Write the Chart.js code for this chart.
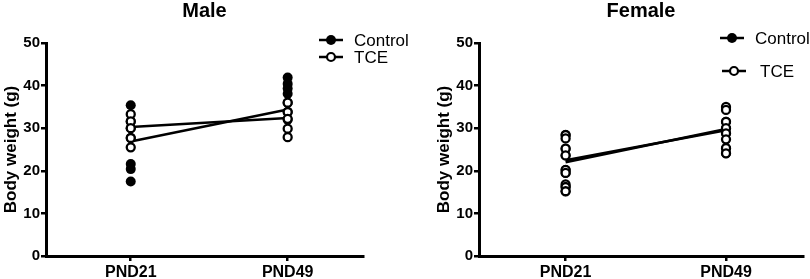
<!DOCTYPE html>
<html>
<head>
<meta charset="utf-8">
<script src="https://cdn.jsdelivr.net/npm/chart.js@4/dist/chart.umd.min.js"></script>
<style>
  html, body { margin: 0; padding: 0; background: #fff; }
  .wrap { position: relative; width: 810px; height: 279px; overflow: hidden; }
  canvas { display: block; position: absolute; top: 0; }
  #male { left: 0; }
  #female { left: 405px; }
</style>
</head>
<body>
<div class="wrap">
  <canvas id="male" width="420" height="279"></canvas>
  <canvas id="female" width="405" height="279"></canvas>
</div>
<script>
// time points on the x axis
const categories = ['PND21', 'PND49'];
const yTicks = [0, 10, 20, 30, 40, 50];

// individual animals, one list per time point
const maleControl = [
    [35.4, 31.6, 30.0, 27.7, 21.6, 20.4, 17.5],
    [41.9, 40.4, 39.3, 38.1, 36.0, 33.8, 32.0]
];
const maleTCE = [
    [33.3, 31.6, 30.0, 27.7, 25.5],
    [36.0, 33.8, 32.2, 29.9, 27.9]
];
const maleControlMean = [26.9, 34.4];
const maleTCEMean = [30.3, 32.4];

const femaleControl = [
    [28.4, 25.2, 23.6, 20.2, 19.5, 16.2, 15.2],
    [34.6, 31.5, 30.0, 28.8, 25.3, 24.1]
];
const femaleTCE = [
    [28.4, 27.6, 25.2, 23.6, 20.2, 19.5, 16.8, 16.2, 15.2],
    [35.0, 34.3, 31.5, 30.0, 28.8, 27.4, 25.3, 24.1]
];
const femaleControlMean = [22.0, 29.8];
const femaleTCEMean = [22.5, 29.5];

const FONT = 'Arial, "Liberation Sans", Helvetica, sans-serif';

function toPoints(groups) {
    return groups.flatMap((values, i) => values.map(v => ({ x: i + 1, y: v })));
}

function toLine(means) {
    return means.map((v, i) => ({ x: i + 1, y: v }));
}

// title and legend drawn on top of the chart
const panelDecor = {
    id: 'panelDecor',
    afterDraw(chart, args, opts) {
        const ctx = chart.ctx;
        const area = chart.chartArea;
        ctx.save();
        ctx.fillStyle = '#000';
        ctx.font = 'bold 20px ' + FONT;
        ctx.textAlign = 'center';
        ctx.textBaseline = 'middle';
        ctx.fillText(opts.title, (area.left + area.right) / 2, 11);

        ctx.font = '17px ' + FONT;
        ctx.textAlign = 'left';
        opts.items.forEach(item => {
            ctx.strokeStyle = '#000';
            ctx.lineWidth = 2.5;
            ctx.beginPath();
            ctx.moveTo(item.x - 12, item.y);
            ctx.lineTo(item.x + 12, item.y);
            ctx.stroke();
            ctx.beginPath();
            ctx.arc(item.x, item.y, item.filled ? 5 : 4, 0, Math.PI * 2);
            ctx.fillStyle = item.filled ? '#000' : '#fff';
            ctx.fill();
            if (!item.filled) {
                ctx.lineWidth = 2.2;
                ctx.stroke();
            }
            ctx.fillStyle = '#000';
            ctx.fillText(item.label, item.textX, item.y + 1);
        });
        ctx.restore();
    }
};

function makeChart(canvas, { control, tce, controlMean, tceMean, title, padLeft, padRight, legend }) {
    const axisGrid = {
        drawOnChartArea: false,
        drawTicks: true,
        tickLength: 5,
        color: '#000',
        lineWidth: 2.5
    };
    return new Chart(canvas, {
        type: 'scatter',
        data: {
            datasets: [
                {
                    label: 'TCE',
                    data: toPoints(tce),
                    pointRadius: 4,
                    pointBorderWidth: 2.3,
                    pointBackgroundColor: '#fff',
                    pointBorderColor: '#000',
                    order: 0
                },
                {
                    label: 'Control',
                    data: toPoints(control),
                    pointRadius: 5,
                    pointBorderWidth: 0,
                    pointBackgroundColor: '#000',
                    pointBorderColor: '#000',
                    order: 1
                },
                {
                    label: 'Control mean',
                    data: toLine(controlMean),
                    showLine: true,
                    borderColor: '#000',
                    borderWidth: 2.5,
                    pointRadius: 0,
                    order: 2
                },
                {
                    label: 'TCE mean',
                    data: toLine(tceMean),
                    showLine: true,
                    borderColor: '#000',
                    borderWidth: 2.5,
                    pointRadius: 0,
                    order: 2
                }
            ]
        },
        options: {
            responsive: false,
            animation: false,
            devicePixelRatio: 1,
            layout: {
                padding: { top: 43, left: padLeft, right: padRight, bottom: 0 }
            },
            plugins: {
                legend: { display: false },
                tooltip: { enabled: false },
                title: { display: false },
                panelDecor: { title: title, items: legend }
            },
            scales: {
                x: {
                    type: 'linear',
                    min: 0.46,
                    max: 2.48,
                    afterBuildTicks: scale => {
                        scale.ticks = categories.map((c, i) => ({ value: i + 1 }));
                    },
                    afterFit: scale => { scale.height = 23; },
                    grid: axisGrid,
                    border: { display: true, color: '#000', width: 3 },
                    ticks: {
                        autoSkip: false,
                        maxRotation: 0,
                        padding: 2,
                        color: '#000',
                        font: { family: FONT, size: 16, weight: 'bold' },
                        callback: value => categories[value - 1] || ''
                    }
                },
                y: {
                    min: 0,
                    max: 50,
                    afterBuildTicks: scale => {
                        scale.ticks = yTicks.map(v => ({ value: v }));
                    },
                    afterFit: scale => { scale.width = 46; },
                    grid: axisGrid,
                    border: { display: true, color: '#000', width: 3 },
                    ticks: {
                        padding: 1,
                        color: '#000',
                        font: { family: FONT, size: 15, weight: 'bold' }
                    },
                    title: {
                        display: true,
                        text: 'Body weight (g)',
                        color: '#000',
                        padding: { top: 1, bottom: 0 },
                        font: { family: FONT, size: 17, weight: 'bold' }
                    }
                }
            }
        },
        plugins: [panelDecor]
    });
}

makeChart(document.getElementById('male'), {
    control: maleControl,
    tce: maleTCE,
    controlMean: maleControlMean,
    tceMean: maleTCEMean,
    title: 'Male',
    padLeft: 0,
    padRight: 57,
    legend: [
        { label: 'Control', x: 331, y: 40, textX: 354, filled: true },
        { label: 'TCE', x: 331, y: 57, textX: 354, filled: false }
    ]
});

makeChart(document.getElementById('female'), {
    control: femaleControl,
    tce: femaleTCE,
    controlMean: femaleControlMean,
    tceMean: femaleTCEMean,
    title: 'Female',
    padLeft: 28,
    padRight: 7,
    legend: [
        { label: 'Control', x: 327, y: 38, textX: 350, filled: true },
        { label: 'TCE', x: 329, y: 71, textX: 355, filled: false }
    ]
});
</script>
</body>
</html>
